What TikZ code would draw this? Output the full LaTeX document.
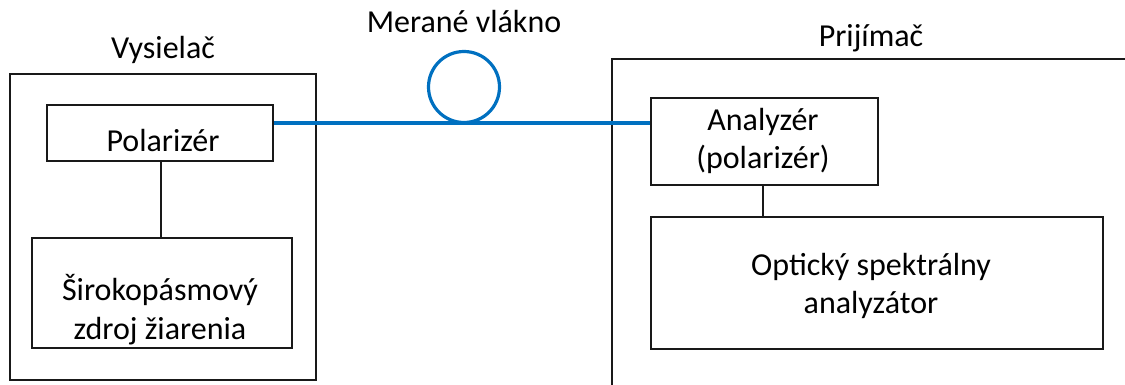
\documentclass[tikz,border=0pt]{standalone}
\usepackage{fontspec}
\setmainfont{Carlito}
\definecolor{fib}{HTML}{0070C0}
\tikzset{
  box/.style={draw=black!90,line width=1.9pt,inner sep=0pt,anchor=north west},
  lbl/.style={inner sep=0pt,align=center,font=\fontsize{32}{38.5}\selectfont,text=black},
  wire/.style={line width=1.9pt,draw=black!90},
  fibre/.style={line width=3.2pt,draw=fib}
}
\begin{document}
\begin{tikzpicture}[x=1pt,y=-1pt]
\useasboundingbox (0,0) rectangle (1125,385);
\node[box,minimum width=306pt,minimum height=306pt] (tx) at (9,73) {};
\node[box,minimum width=226pt,minimum height=56pt] (pol) at (46,104) {};
\node[lbl] (poltext) at (163,141) {Polarizér};
\node[box,minimum width=260pt,minimum height=110pt] (src) at (31,237) {};
\node[lbl] (srctext) at (160,309.5) {Širokopásmový\\zdroj žiarenia};
\draw[draw=black!90,line width=1.9pt] (1125,59) -- (612,59) -- (612,385);
\node[box,minimum width=227pt,minimum height=87pt] (ana) at (650,97) {};
\node[lbl] (anatext) at (763,141) {Analyzér\\(polarizér)};
\node[box,minimum width=452pt,minimum height=132pt] (osa) at (650,216) {};
\node[lbl] (osatext) at (871,286) {Optický spektrálny\\analyzátor};
\node[lbl] (l1) at (163,50) {Vysielač};
\node[lbl] (l2) at (464,21.5) {Merané vlákno};
\node[lbl] (l3) at (871,38) {Prijímač};
\draw[wire] (pol.south -| 161,0) -- (src.north -| 161,0);
\draw[wire] (ana.south -| 763,0) -- (osa.north -| 763,0);
\coordinate (fa) at (pol.east |- 0,123);
\coordinate (fb) at (ana.west |- 0,123);
\draw[fibre] (fa) -- (fb);
\node[circle,draw=fib,line width=3.2pt,minimum size=71pt,inner sep=0pt] (loop) at (464,87) {};
\end{tikzpicture}
\end{document}
